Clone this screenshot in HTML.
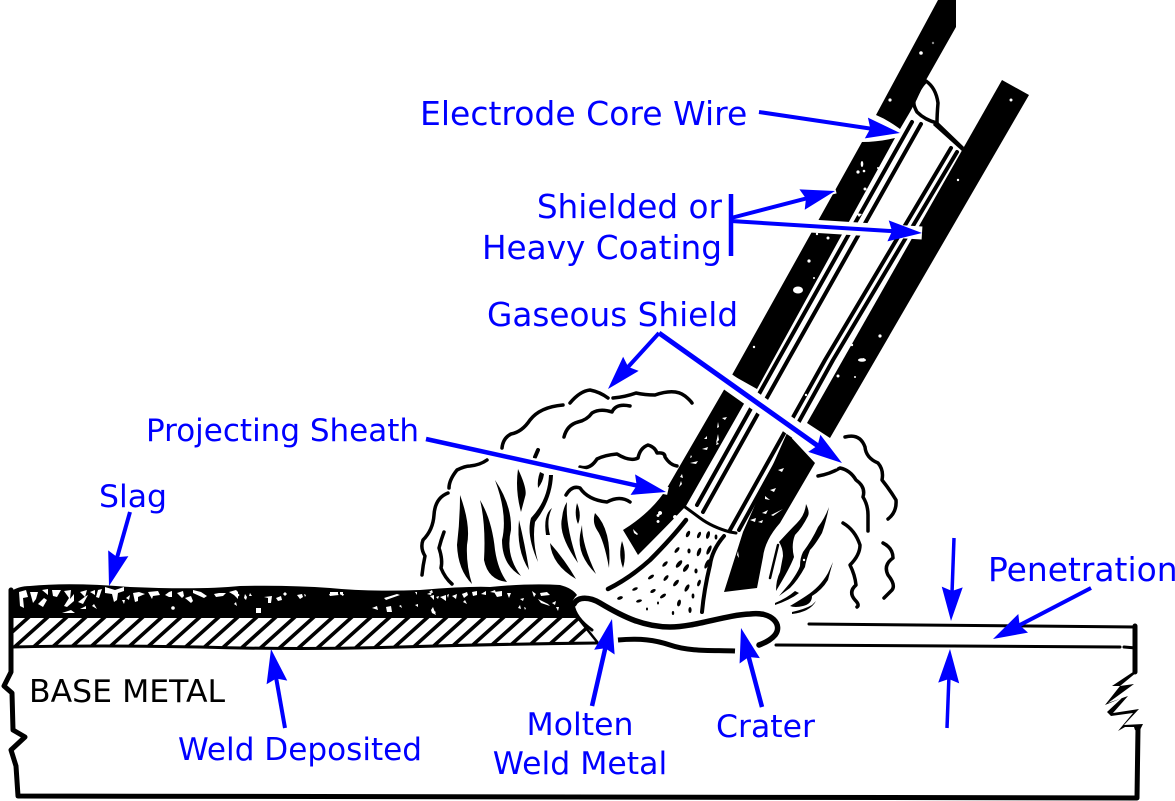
<!DOCTYPE html>
<html><head><meta charset="utf-8"><style>
html,body{margin:0;padding:0;background:#fff}
svg{display:block}
text{font-family:"DejaVu Sans",sans-serif;font-size:31.5px;fill:#0000ff}
.k{fill:none;stroke:#000;stroke-linecap:round;stroke-linejoin:round}
.b{fill:none;stroke:#0000ff;stroke-linecap:butt;stroke-dasharray:90 100}
</style></head><body>
<svg width="1175" height="801" viewBox="0 0 1175 801" xmlns="http://www.w3.org/2000/svg">
<defs>
<marker id="a" markerUnits="userSpaceOnUse" markerWidth="44" markerHeight="30" viewBox="-40 -15 44 30" refX="0" refY="0" orient="auto"><path d="M-34,-10.5 L0,0 L-34,10.5 L-30,0z" fill="#0000ff"/></marker>
<clipPath id="hc"><path d="M12,617H578L598,643Q500,644 400,647Q300,650 200,647Q100,645 12,647Z"/></clipPath>
</defs>
<rect width="1175" height="801" fill="#fff"/>

<!-- electrode coating -->
<path d="M938,0H956V27L926,80L915,103L910,112L900,129Q888,120 876,115Z" fill="#000"/>
<path d="M1002,80L1029,95L830,438L807,423Z" fill="#000"/>
<path d="M862,142Q878,142 895,138L757,389L732,375Z" fill="#000"/>
<path d="M725,388L745,402L686,506Q668,525 638,555L623,530Q652,512 667,488Z" fill="#000"/>
<path d="M787,433L815,463L780,523Q765,540 763,557L757,588Q740,590 724,592L743,532Z" fill="#000"/>

<!-- tip cup -->
<path class="k" stroke-width="3.5" d="M926,81Q936,88 938,103Q937,115 937,123Q925,120 917,112Q912,103 915,99Q919,88 926,81Z" fill="#fff"/>
<path d="M936,120L964,147L962,151L933,125Z" fill="#000"/>

<!-- core lines -->
<path class="k" stroke-width="4" stroke-linecap="butt" d="M912,122L778,360L697,505M921,124L788,360L703,512M951,148L825,360L730,530M957,152L833,360L739,530"/>
<path class="k" stroke-width="3" d="M685,507Q692,512 700,518Q712,527 730,532L736,533"/>

<!-- white specks in coating -->
<g fill="#fff">
<circle cx="921" cy="53" r="1.8"/><circle cx="890" cy="100" r="1.6"/><circle cx="1011" cy="100" r="1.5"/><circle cx="933" cy="43" r="1.2" fill="#888"/>
<ellipse cx="862" cy="164" rx="1.3" ry="3"/><circle cx="858" cy="172" r="1.6"/><circle cx="864" cy="171" r="1.3"/><circle cx="865" cy="189" r="1.5"/><circle cx="878" cy="168" r="1"/>
<ellipse cx="798" cy="290" rx="5" ry="3.5"/><circle cx="809" cy="261" r="1.6"/><circle cx="814" cy="278" r="1"/><circle cx="754" cy="347" r="1.2"/><circle cx="817" cy="234" r="1.2"/><circle cx="828" cy="238" r="1.5"/>
<path d="M856,213l6,1-3,3zM858,360l6,-2 1,2z"/>
<circle cx="880" cy="336" r="1.6"/><circle cx="852" cy="345" r="1.2"/><ellipse cx="862" cy="360" rx="4" ry="1.8"/><circle cx="855" cy="377" r="1"/><circle cx="958" cy="180" r="1.2"/>
<circle cx="838" cy="376" r="1.5"/><circle cx="806" cy="395" r="1.2"/>
<path d="M722,418l5,-1 -2,3zM717,428l1,-6 1,5zM716,443l2,-9 1,6zM707,415l-2,0 1,3zM716,445l1,-3 2,2zM690,463l8,-2 -2,3zM704,439l3,-3 0,3zM702,449l6,-2 -1,3zM680,477l2,-3 1,4zM679,487l2,-6 1,3zM690,458l1,-3 1,2zM675,515a2,2 0 1,0 .1,0M660,511a2,2 0 1,0 .1,0M658,514a1.5,1.5 0 1,0 .1,0M658,520a1.5,1.5 0 1,0 .1,0M633,529l3,3 2,2 -1,1 -3,-2z"/>
<path d="M784,468l-6,2 4,2zM776,488l-6,2 4,2zM768,510l-6,3 4,1zM765,496l5,4 -5,-1zM783,509l-10,7 -2,-1zM750,520l6,-2 -1,4zM758,522l5,-2 -1,3zM737,535l4,1 -3,3zM739,558l-1,-7 -1,4z"/>
</g>

<!-- gaseous smoke -->
<g class="k" stroke-width="3.5">
<path d="M449,488Q449,480 457,470Q465,466 470,466Q480,465 487,460"/>
<path d="M502,448Q503,438 511,434Q522,432 530,420Q540,407 563,405"/>
<path d="M570,403Q580,391 590,390Q600,392 608,398"/>
<path d="M613,398Q625,397 636,393Q645,395 655,395Q675,388 685,396Q690,400 692,403"/>
<path d="M564,437Q567,425 578,422Q587,420 592,413Q600,408 612,412Q616,403 630,406"/>
<path d="M580,467Q590,470 597,459Q605,455 617,454Q630,462 638,458Q640,448 648,445Q655,447 657,453Q665,452 665,457Q670,465 677,466"/>
<path d="M566,495Q572,485 580,488Q588,500 607,502Q620,495 630,502"/>
<path d="M448,493Q435,498 434,515Q433,530 423,540Q420,548 425,556Q423,565 422,575"/>
<path d="M444,532Q441,540 439,548Q443,560 441,568Q445,578 452,584"/>
<path d="M845,437Q860,433 865,447Q866,458 878,463Q884,470 882,480Q890,490 896,500Q897,512 888,519"/>
<path d="M818,476Q830,474 840,468Q850,470 856,480Q866,487 863,497Q868,505 868,515L868,531"/>
<path d="M843,523Q855,530 860,545Q860,555 850,565Q855,575 856,585Q848,592 855,600Q860,605 857,607"/>
<path d="M883,543Q893,548 893,558Q883,565 888,575Q896,585 892,590L884,598"/>
<path d="M538,450L535,457" stroke-width="4"/>
</g>

<!-- left flames -->
<g fill="#000">
<path d="M460,495Q471,525 467,545Q466,565 472,584Q458,570 457,545Q460,520 460,495Z"/>
<path d="M480,500Q492,520 495,550Q498,570 507,582Q488,580 484,560Q486,525 480,500Z"/>
<path d="M495,480Q512,505 511,530Q505,555 521,576Q502,565 502,540Q508,515 495,480Z"/>
<path d="M518,469Q528,490 525,497L521,512Q515,490 518,469Z"/>
<path d="M553,475Q552,500 535,522Q532,540 538,562Q526,535 531,518Q548,500 549,475Z"/>
<path d="M540,472L544,474Q543,482 538,488Q537,480 540,472Z"/>
<path d="M519,520Q525,545 529,570Q516,550 519,520Z"/>
<path d="M552,508Q546,520 550,535L546,535Q543,515 552,508Z"/>
<path d="M550,543Q565,560 576,579Q552,565 550,543Z"/>
<path d="M567,502Q565,525 578,563Q558,535 562,518Q563,508 567,502Z"/>
<path d="M577,503Q582,515 578,524Q574,515 577,503Z"/>
<path d="M582,525Q582,545 596,574Q577,555 580,535Z"/>
<path d="M595,513Q612,530 609,568Q604,540 597,530Q592,522 595,513Z"/>
<path d="M622,541Q627,555 623,568Q618,555 622,541Z"/>
</g>

<!-- right flames -->
<g fill="#000">
<path d="M806,504Q810,512 808,516Q802,528 795,535Q791,545 794,557Q790,568 776,591Q776,580 780,572L783,556Q783,548 779,542Q790,530 797,523Q805,515 806,504Z"/>
<path d="M829,507Q826,522 822,533Q815,545 810,550Q806,560 805,567Q798,580 790,588L779,596L790,583Q798,572 800,566Q800,558 803,552Q812,540 818,527Q825,518 829,507Z"/>
<path d="M833,562Q830,572 828,580Q822,590 812,596Q812,604 803,606Q795,608 790,606Q800,600 806,596Q820,587 828,573Z"/>
<path d="M775,603Q787,598 795,591L799,593Q790,600 775,605Z"/>
<path d="M792,612Q805,609 812,605L816,601Q810,612 792,614Z"/>
</g>
<circle cx="804" cy="560" r="1.2" fill="#fff"/>
<path class="k" stroke-width="2.5" d="M778,545L770,578"/>

<!-- fan lines -->
<path class="k" stroke-width="4.5" d="M608,589Q630,578 650,560Q672,538 686,520"/>
<path class="k" stroke-width="4" d="M724,536Q712,550 710,565Q704,590 702,612"/>
<g fill="#000">
<ellipse cx="688" cy="534" rx="1.8" ry="3.5" transform="rotate(25 688 534)"/><ellipse cx="699" cy="535" rx="1.6" ry="3.5" transform="rotate(25 699 535)"/><ellipse cx="708" cy="535" rx="1.8" ry="4" transform="rotate(15 708 535)"/><ellipse cx="716" cy="537" rx="1.4" ry="2.5"/>
<ellipse cx="677" cy="550" rx="1.6" ry="3.5" transform="rotate(40 677 550)"/><ellipse cx="689" cy="551" rx="1.6" ry="2.5"/><ellipse cx="699" cy="552" rx="1.8" ry="4.5" transform="rotate(20 699 552)"/><ellipse cx="709" cy="550" rx="1.8" ry="5" transform="rotate(25 709 550)"/>
<ellipse cx="665" cy="564" rx="1.6" ry="3.5" transform="rotate(45 665 564)"/><ellipse cx="679" cy="564" rx="2" ry="4.5" transform="rotate(40 679 564)"/><ellipse cx="686" cy="568" rx="2" ry="4.5" transform="rotate(35 686 568)"/><ellipse cx="696" cy="571" rx="1.6" ry="2.5"/><ellipse cx="707" cy="564" rx="1.8" ry="5" transform="rotate(25 707 564)"/>
<ellipse cx="651" cy="577" rx="1.6" ry="3.5" transform="rotate(55 651 577)"/><ellipse cx="666" cy="578" rx="1.6" ry="3.5" transform="rotate(40 666 578)"/><ellipse cx="676" cy="583" rx="1.8" ry="4" transform="rotate(40 676 583)"/><ellipse cx="687" cy="588" rx="1.8" ry="4" transform="rotate(30 687 588)"/><ellipse cx="699" cy="583" rx="1.6" ry="3.5" transform="rotate(20 699 583)"/>
<ellipse cx="635" cy="589" rx="1.4" ry="3" transform="rotate(65 635 589)"/><ellipse cx="653" cy="591" rx="1.6" ry="3" transform="rotate(60 653 591)"/><ellipse cx="663" cy="596" rx="1.6" ry="3.5" transform="rotate(55 663 596)"/><ellipse cx="693" cy="596" rx="1.4" ry="2.5"/>
<ellipse cx="620" cy="598" rx="1.6" ry="3" transform="rotate(70 620 598)"/><ellipse cx="639" cy="601" rx="1.4" ry="3" transform="rotate(75 639 601)"/><ellipse cx="647" cy="609" rx="1" ry="1.5"/><ellipse cx="679" cy="603" rx="1.8" ry="3.5" transform="rotate(15 679 603)"/><ellipse cx="690" cy="610" rx="1.6" ry="3"/><ellipse cx="673" cy="613" rx="1.2" ry="2"/><ellipse cx="658" cy="603" rx="1" ry="1.5"/>
</g>

<!-- weld bead -->
<path d="M10,592Q18,586 30,586Q70,582 130,587Q200,590 240,586Q290,585 330,588Q370,592 420,590Q470,586 490,587Q530,583 560,585Q572,588 577,595Q570,602 573,608L578,618L12,618Z" fill="#000"/>
<g clip-path="url(#hc)">
<path stroke="#000" stroke-width="3.6" fill="none" d="M-10,652l40,-36M9,652l40,-36M28,652l40,-36M47,652l40,-36M66,652l40,-36M85,652l40,-36M104,652l40,-36M123,652l40,-36M142,652l40,-36M161,652l40,-36M180,652l40,-36M199,652l40,-36M218,652l40,-36M237,652l40,-36M256,652l40,-36M275,652l40,-36M294,652l40,-36M313,652l40,-36M332,652l40,-36M351,652l40,-36M370,652l40,-36M389,652l40,-36M408,652l40,-36M427,652l40,-36M446,652l40,-36M465,652l40,-36M484,652l40,-36M503,652l40,-36M522,652l40,-36M541,652l40,-36M560,652l40,-36"/>
</g>
<path d="M12,647Q100,645 200,647Q300,650 400,647Q500,644 598,643" fill="none" stroke="#000" stroke-width="3"/>
<path d="M578,618L598,643" fill="none" stroke="#000" stroke-width="2.5"/>
<path d="M574,604C578,596 590,597 600,603C625,618 645,627 670,627C695,627 725,615 750,614C772,611 783,625 775,635Q770,641 759,645" class="k" stroke-width="5.5"/>
<path d="M573,604Q575,618 592,630" class="k" stroke-width="3"/>
<path d="M618,640C640,638 655,640 670,645C690,652 715,650 735,651" fill="none" stroke="#000" stroke-width="5"/>

<!-- slag specks -->
<g fill="#fff">
<path d="M19,592l7,-2 2,7 -5,1 1,10 -4,-2zM30,592l8,0 -2,7 -3,4zM38,604l6,-6 3,2 -4,7zM42,590l6,-1 0,6zM52,590l9,0 -4,7 -4,-1zM64,591l7,-1 -1,9 4,-5 0,7 -7,6 -3,-1 5,-8zM80,592l7,-2 -2,7 -1,-1zM78,602l8,-6 2,-1 -5,9zM90,592l5,-2 0,5zM98,590l4,-1 -3,9 -3,-1zM105,587l10,3 9,-3 0,4 -6,2 -1,7 -3,2 -2,-8 -7,-1zM126,598l4,-3 -1,5zM133,593l6,-1 6,2 -7,3 0,4 -3,1zM62,613l9,-3 4,3zM80,609l6,-3 0,3zM92,606l2,-2 3,5zM122,600l3,0 -1,4z"/>
<circle cx="173" cy="608" r="1.8"/>
<path d="M148,592l10,-1 2,4 -7,1 -1,3zM165,595l4,-3 3,-1 0,6 -3,0zM177,593l6,-2 1,5 -2,2zM185,598l6,-2 2,5 -2,2zM193,590l8,2 6,4 -3,2 -11,-5zM214,594l5,-1 7,0 -3,3 -7,1zM229,592l7,-2 2,2 0,7 -4,-4zM234,604l2,-2 1,4zM245,594l-1,4 2,2 1,-3zM249,596l1,-3 2,3zM264,597l8,-1 -1,7 -3,0 0,-5zM276,598l5,-2 1,4 -4,1zM283,594l2,-2 2,2 -2,2zM297,595l5,-1 1,3 -3,2zM304,594l2,1 -1,2z"/>
<rect x="256" y="608" width="5" height="5"/><circle cx="238" cy="595" r="1.3"/>
<path d="M329,594l7,-1 3,2 -9,1zM340,594l4,0 -1,2zM384,598l13,-4 3,1 -14,5zM415,592l2,0 0,3zM372,608l5,-2 1,4zM386,607l5,-1 1,6 -5,0zM399,606l2,-1 1,3zM415,605l3,-1 0,3zM434,612l1,-1 1,2z"/>
<rect x="330" y="592" width="8" height="2.5"/><rect x="340" y="592" width="3" height="2.5"/>
<path d="M427,594l5,-2 -1,3zM430,596l4,-1 0,5zM431,610l2,-3 3,8 -4,-2zM436,597l3,-1 -1,3zM429,592l3,-2 1,3zM440,597l6,-2 0,6zM447,595l2,-1 -1,4zM452,596l5,-2 -1,5zM462,594l3,-1 0,4z"/>
<path d="M462,594l5,-2 1,3 -4,3zM472,592l5,-1 0,4 -4,1zM463,602l2,-2 2,4zM481,594l5,-3 0,4zM490,592l5,-2 1,3zM494,592l8,-1 0,5 -5,1zM507,593l4,0 -2,5zM518,608l2,-3 1,4zM524,607l2,1 -1,2zM534,597l-2,-6 4,3zM540,593l7,-1 3,3 -9,1zM538,599l10,5 2,2 -9,-3zM552,603l4,-2 -1,4zM520,599l4,-1 -1,3zM556,607l3,0 -1,4z"/>
</g>
<path d="M10,590H13V622H10Z" fill="#000"/>

<!-- base metal outline -->
<path class="k" stroke-width="5" stroke-linecap="butt" d="M11,590V672L4,686L12,693L13,730L25,737L11,750L16,766L18,796L1137,798L1138,728"/>
<path class="k" stroke-width="3" d="M809,624L1136,627M776,645L1120,647M1124,647L1136,648"/>
<path class="k" stroke-width="5" stroke-linecap="butt" d="M1135,626V672"/>
<path d="M1137,672L1120,686L1134,684L1108,703L1128,696L1113,713L1139,709L1124,725L1143,724L1139,732L1135,730L1134,727L1125,727L1118,731L1133,713L1111,716L1107,712L1122,698L1105,705L1120,686L1112,686L1133,672Z" fill="#000"/>

<!-- halos -->
<g stroke="#fff" fill="none">
<path d="M659,333L841,462" stroke-width="17"/>
<path d="M731,221L922,233" stroke-width="13"/>
<path d="M731,218L836,191" stroke-width="5"/>
<path d="M426,439L668,491" stroke-width="8"/>
</g>

<!-- arrows -->
<path class="b" stroke-width="4" pathLength="100" marker-end="url(#a)" d="M759,112L900,133"/>
<path d="M731,194V256" stroke="#0000ff" stroke-width="4.5" fill="none"/>
<path class="b" stroke-width="4" pathLength="100" marker-end="url(#a)" d="M731,218L835,191"/>
<path class="b" stroke-width="4" pathLength="100" marker-end="url(#a)" d="M731,221L922,233"/>
<path class="b" stroke-width="4" pathLength="100" marker-end="url(#a)" d="M659,333L608,389"/>
<path class="b" stroke-width="5" pathLength="100" marker-end="url(#a)" d="M659,333L842,463"/>
<path class="b" stroke-width="4.5" pathLength="100" marker-end="url(#a)" d="M426,439L666,492"/>
<path class="b" stroke-width="4" pathLength="100" marker-end="url(#a)" d="M130,512L109,586"/>
<path class="b" stroke-width="4" pathLength="100" marker-end="url(#a)" d="M285,728L271,649"/>
<path class="b" stroke-width="4.5" pathLength="100" marker-end="url(#a)" d="M592,706L612,619"/>
<path class="b" stroke-width="4.5" pathLength="100" marker-end="url(#a)" d="M762,707L741,628"/>
<path class="b" stroke-width="4" pathLength="100" marker-end="url(#a)" d="M1091,588L993,639"/>
<path class="b" stroke-width="3.5" pathLength="100" marker-end="url(#a)" d="M954,538L951,621"/>
<path class="b" stroke-width="3.5" pathLength="100" marker-end="url(#a)" d="M947,728L950,649"/>

<!-- labels -->
<text x="420" y="125" style="font-size:33px">Electrode Core Wire</text>
<text x="722" y="218" text-anchor="end" style="font-size:32.7px">Shielded or</text>
<text x="722" y="259" text-anchor="end" style="font-size:32.7px">Heavy Coating</text>
<text x="487" y="326" style="font-size:32.7px">Gaseous Shield</text>
<text x="146" y="441" style="font-size:31px">Projecting Sheath</text>
<text x="99" y="507">Slag</text>
<text x="29" y="702" style="fill:#000">BASE METAL</text>
<text x="178" y="760" style="font-size:31.1px">Weld Deposited</text>
<text x="580" y="735" text-anchor="middle">Molten</text>
<text x="580" y="774" text-anchor="middle">Weld Metal</text>
<text x="716" y="737">Crater</text>
<text x="988" y="581" style="font-size:32.9px">Penetration</text>
</svg>
</body></html>
